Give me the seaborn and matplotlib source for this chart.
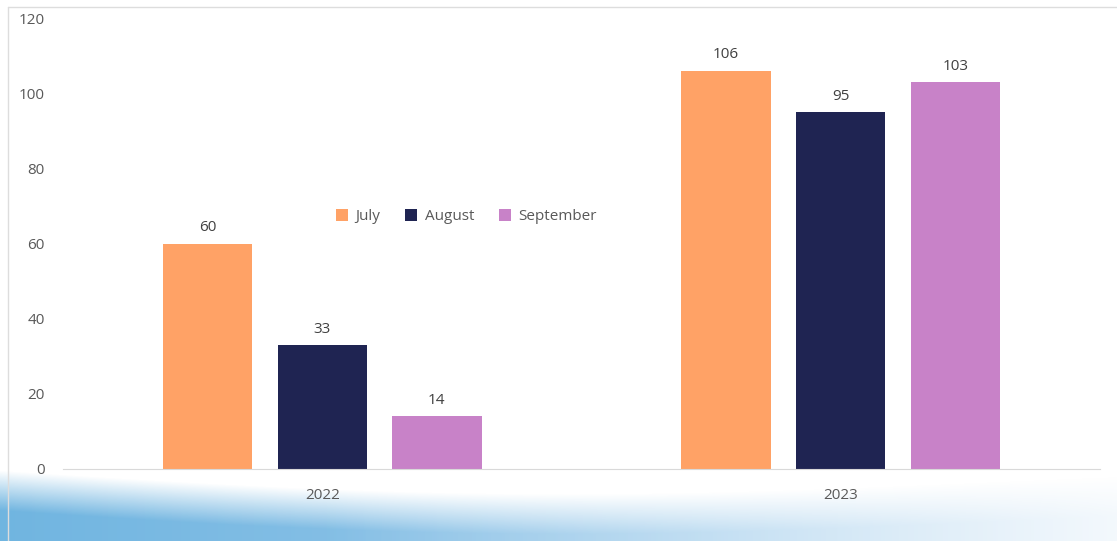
import numpy as np
import pandas as pd
import matplotlib.pyplot as plt
import seaborn as sns

# === data ===
years = ["2022", "2023"]
months = ["July", "August", "September"]
july = [60, 106]
august = [33, 95]
september = [14, 103]
colors = ["#FFA266", "#1F2452", "#C882C8"]

df = pd.DataFrame({
    "year": years * 3,
    "month": [m for m in months for _ in years],
    "value": july + august + september,
})

sns.set_style("white")
plt.rcParams["font.family"] = ["Open Sans", "DejaVu Sans"]

fig = plt.figure(figsize=(11.17, 5.41), dpi=100)

# soft blue wave behind the chart (decoration)
bg = fig.add_axes([0, 0, 1, 1], zorder=0)
h, w = 541, 1117
yy, xx = np.mgrid[0:h, 0:w]
edge = 470 + 18 * np.sin(xx / w * np.pi * 1.1) + 0.01 * xx
a = np.clip((yy - edge) / 40, 0, 1) * np.clip(1.35 - 1.2 * xx / w, 0, 1)
img = np.zeros((h, w, 4))
img[..., 0] = 0.44 + 0.25 * xx / w
img[..., 1] = 0.71 + 0.12 * xx / w
img[..., 2] = 0.88 + 0.06 * xx / w
img[..., 3] = np.clip(a, 0, 1)
bg.imshow(img, aspect="auto", extent=[0, 1, 0, 1], origin="upper")
bg.set_xlim(0, 1)
bg.set_ylim(0, 1)
bg.axis("off")
bg.plot([0.007, 0.007], [0, 0.987], color="#dddddd", lw=1)
bg.plot([0.007, 1], [0.987, 0.987], color="#dddddd", lw=1)

ax = fig.add_axes([63 / w, (541 - 469) / 541, (1100 - 63) / w, 451 / 541], zorder=1)
ax.patch.set_alpha(0)
sns.barplot(data=df, x="year", y="value", hue="month", hue_order=months,
            palette=colors, width=0.663, gap=0.22, saturation=1,
            linewidth=0, ax=ax)

for cont in ax.containers:
    ax.bar_label(cont, padding=6, fontsize=11, color="#404040")

ax.set_ylim(0, 120)
ax.set_xlim(-0.5, 1.5)
ax.set_yticks(range(0, 121, 20))
ax.tick_params(axis="y", length=0, pad=13, labelsize=11, labelcolor="#595959")
ax.tick_params(axis="x", length=0, pad=14, labelsize=11, labelcolor="#595959")
ax.set_xlabel("")
ax.set_ylabel("")
for s in ["top", "right", "left"]:
    ax.spines[s].set_visible(False)
ax.spines["bottom"].set_color("#d9d9d9")

ax.legend(loc="center", bbox_to_anchor=(0.389, 0.559), ncol=3, frameon=False,
          fontsize=11, labelcolor="#595959", handlelength=0.8, handleheight=0.8,
          columnspacing=1.6, handletextpad=0.5)

fig.savefig("out.png", dpi=100)
